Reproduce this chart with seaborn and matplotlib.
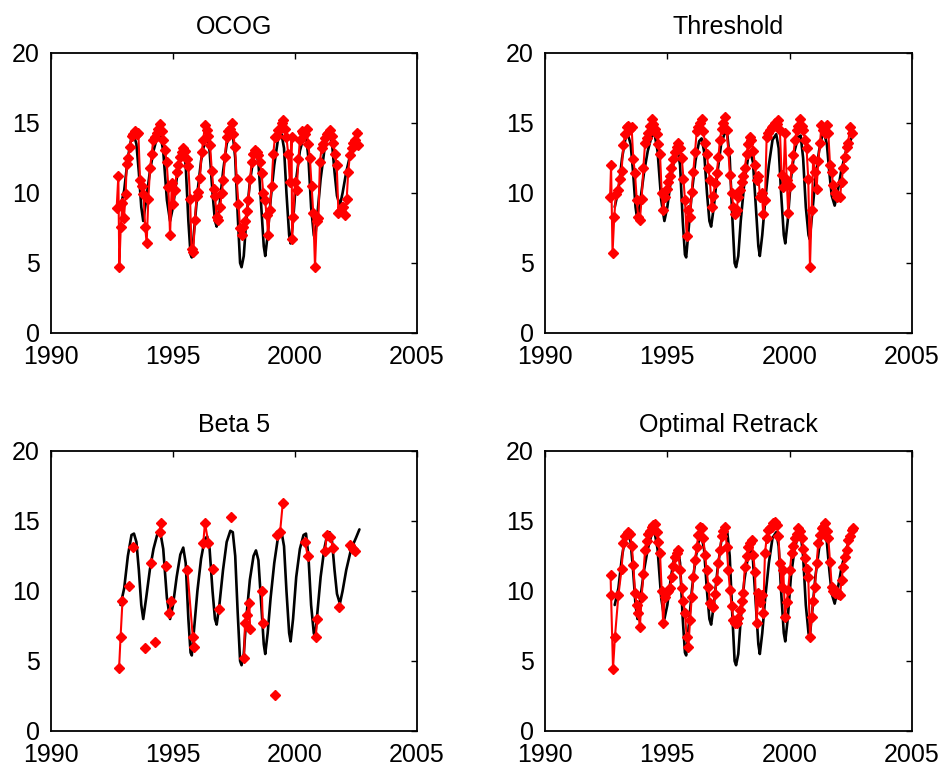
import numpy as np
import pandas as pd
import matplotlib
matplotlib.use("Agg")
import matplotlib.pyplot as plt
import seaborn as sns

sns.set_style("white")
plt.rcParams["font.family"] = ["Liberation Sans", "DejaVu Sans"]

# ---------------- reference (black) series ----------------
ref_t = [1992.85, 1993.0, 1993.15, 1993.3, 1993.4, 1993.5, 1993.6, 1993.7, 1993.78, 1993.9,
         1994.05, 1994.2, 1994.35, 1994.47, 1994.6, 1994.75, 1994.88, 1995.0, 1995.15, 1995.3,
         1995.42, 1995.52, 1995.63, 1995.72, 1995.77, 1995.85, 1996.0, 1996.15, 1996.3, 1996.4,
         1996.5, 1996.62, 1996.72, 1996.79, 1996.9, 1997.05, 1997.2, 1997.35, 1997.45, 1997.55,
         1997.65, 1997.75, 1997.81, 1997.9, 1998.0, 1998.15, 1998.3, 1998.4, 1998.5, 1998.6,
         1998.72, 1998.78, 1998.88, 1999.0, 1999.15, 1999.3, 1999.45, 1999.55, 1999.65, 1999.76,
         1999.82, 1999.92, 2000.05, 2000.2, 2000.35, 2000.45, 2000.55, 2000.66, 2000.77, 2000.82,
         2000.92, 2001.05, 2001.2, 2001.33, 2001.42, 2001.52, 2001.62, 2001.72, 2001.84, 2001.95,
         2002.1, 2002.3, 2002.5, 2002.64]
ref_v = [9.0, 10.2, 12.5, 14.0, 14.1, 13.5, 11.5, 9.0, 8.0, 9.5,
         11.5, 13.0, 14.0, 14.3, 13.0, 9.5, 8.0, 9.0, 11.0, 12.6,
         13.1, 12.0, 8.0, 5.6, 5.4, 7.0, 10.0, 12.3, 13.7, 13.9,
         13.0, 10.0, 8.0, 7.6, 9.0, 11.5, 13.5, 14.3, 14.2, 12.5,
         8.5, 5.0, 4.7, 5.5, 8.0, 10.8, 12.5, 12.9, 12.2, 9.5,
         6.2, 5.5, 7.0, 9.5, 12.0, 13.8, 14.2, 13.2, 10.0, 7.0,
         6.4, 8.0, 11.0, 13.0, 14.0, 14.1, 12.5, 9.0, 7.0, 6.7,
         8.5, 11.0, 13.0, 14.1, 14.2, 13.5, 11.5, 9.8, 9.1, 10.0,
         11.5, 13.0, 13.8, 14.4]

# ---------------- OCOG ----------------
ocog_t = [1992.69, 1992.76, 1992.80, 1992.86, 1992.93, 1992.99, 1993.06, 1993.10, 1993.17, 1993.24,
          1993.31, 1993.38, 1993.44, 1993.51, 1993.58, 1993.65, 1993.72, 1993.79, 1993.86, 1993.92,
          1993.99, 1994.06, 1994.13, 1994.19, 1994.26, 1994.33, 1994.40, 1994.47, 1994.53, 1994.60,
          1994.67, 1994.74, 1994.81, 1994.88, 1994.95, 1995.01, 1995.08, 1995.15, 1995.22, 1995.29,
          1995.36, 1995.43, 1995.49, 1995.56, 1995.63, 1995.70, 1995.76, 1995.83, 1995.90, 1995.97,
          1996.04, 1996.10, 1996.18, 1996.24, 1996.31, 1996.38, 1996.45, 1996.52, 1996.59, 1996.66,
          1996.72, 1996.79, 1996.86, 1996.93, 1997.00, 1997.06, 1997.13, 1997.20, 1997.27, 1997.34,
          1997.40, 1997.47, 1997.54, 1997.61, 1997.68, 1997.75, 1997.82, 1997.88, 1997.95, 1998.02,
          1998.09, 1998.16, 1998.22, 1998.29, 1998.36, 1998.43, 1998.50, 1998.56, 1998.63, 1998.70,
          1998.77, 1998.84, 1998.90, 1998.97, 1999.04, 1999.11, 1999.18, 1999.25, 1999.32, 1999.38,
          1999.45, 1999.52, 1999.58, 1999.65, 1999.72, 1999.79, 1999.86, 1999.88, 1999.93, 2000.00,
          2000.07, 2000.14, 2000.20, 2000.27, 2000.34, 2000.41, 2000.48, 2000.54, 2000.61, 2000.68,
          2000.75, 2000.82, 2000.89, 2000.96, 2001.02, 2001.09, 2001.16, 2001.23, 2001.30, 2001.37,
          2001.43, 2001.50, 2001.57, 2001.64, 2001.71, 2001.78, 2001.85, 2001.91, 2001.98, 2002.05,
          2002.12, 2002.18, 2002.25, 2002.32, 2002.39, 2002.46, 2002.53, 2002.60]
ocog_v = [8.9, 11.2, 4.7, 7.6, 9.3, 8.2, 9.9, 12.1, 12.5, 13.3,
          14.1, 14.2, 14.4, 14.2, 14.3, 10.9, 10.5, 9.9, 7.6, 6.4,
          9.6, 11.8, 12.8, 13.8, 14.0, 14.3, 14.6, 14.9, 14.4, 13.8,
          13.1, 12.2, 10.4, 7.0, 10.7, 9.2, 10.2, 11.5, 12.0, 12.6,
          12.95, 13.2, 13.0, 12.4, 11.9, 9.6, 6.0, 5.8, 8.1, 9.8,
          10.1, 11.05, 12.95, 13.8, 14.86, 14.5, 14.1, 13.4, 11.6, 10.3,
          9.8, 8.3, 8.1, 9.0, 10.0, 10.9, 12.6, 14.0, 14.4, 14.6,
          14.98, 14.2, 13.3, 11.0, 9.2, 7.5, 7.0, 7.6, 8.0, 8.7,
          9.5, 11.0, 12.2, 12.8, 13.1, 12.9, 12.7, 12.2, 11.4, 10.0,
          9.5, 8.4, 7.0, 8.8, 10.5, 12.8, 14.0, 14.1, 14.5, 14.6,
          15.0, 15.2, 14.6, 14.0, 12.8, 10.8, 14.0, 6.7, 8.3, 10.8,
          10.2, 12.4, 13.8, 14.4, 14.3, 14.2, 14.6, 13.5, 12.5, 10.5,
          8.55, 4.7, 8.0, 8.2, 12.2, 13.2, 13.5, 13.9, 14.2, 14.3,
          14.5, 14.1, 13.6, 12.8, 12.0, 8.55, 8.7, 9.0, 9.0, 8.43,
          9.6, 11.5, 12.7, 13.2, 13.55, 13.8, 14.26, 13.4]

# ---------------- Threshold ----------------
thr_t = [1992.66, 1992.70, 1992.76, 1992.83, 1992.90, 1992.97, 1993.05, 1993.13, 1993.20, 1993.27,
         1993.34, 1993.41, 1993.48, 1993.54, 1993.61, 1993.68, 1993.75, 1993.81, 1993.88, 1993.95,
         1994.02, 1994.09, 1994.15, 1994.22, 1994.29, 1994.36, 1994.43, 1994.50, 1994.57, 1994.63,
         1994.70, 1994.77, 1994.83, 1994.90, 1994.97, 1995.04, 1995.10, 1995.17, 1995.24, 1995.31,
         1995.38, 1995.45, 1995.52, 1995.59, 1995.66, 1995.72, 1995.79, 1995.86, 1995.93, 1996.00,
         1996.06, 1996.13, 1996.20, 1996.27, 1996.34, 1996.40, 1996.47, 1996.54, 1996.61, 1996.68,
         1996.74, 1996.81, 1996.88, 1996.95, 1997.02, 1997.09, 1997.15, 1997.22, 1997.29, 1997.36,
         1997.43, 1997.49, 1997.56, 1997.63, 1997.70, 1997.76, 1997.83, 1997.90, 1997.97, 1998.04,
         1998.10, 1998.17, 1998.24, 1998.31, 1998.38, 1998.44, 1998.51, 1998.58, 1998.65, 1998.72,
         1998.79, 1998.86, 1998.92, 1998.99, 1999.06, 1999.13, 1999.20, 1999.27, 1999.33, 1999.40,
         1999.47, 1999.53, 1999.60, 1999.67, 1999.74, 1999.81, 1999.88, 1999.94, 2000.01, 2000.08,
         2000.15, 2000.22, 2000.29, 2000.35, 2000.42, 2000.49, 2000.56, 2000.63, 2000.69, 2000.76,
         2000.83, 2000.90, 2000.96, 2001.03, 2001.10, 2001.17, 2001.24, 2001.30, 2001.37, 2001.44,
         2001.51, 2001.58, 2001.65, 2001.71, 2001.78, 2001.85, 2001.92, 2001.99, 2002.06, 2002.12,
         2002.19, 2002.26, 2002.33, 2002.39, 2002.46, 2002.53]
thr_v = [9.7, 12.0, 5.7, 8.3, 9.9, 10.2, 11.0, 11.6, 13.4, 14.2,
         14.7, 14.8, 14.6, 14.7, 12.4, 11.4, 9.5, 8.3, 8.1, 9.6,
         11.8, 13.55, 13.9, 14.3, 14.8, 15.3, 14.9, 14.6, 14.2, 13.5,
         12.8, 10.0, 8.8, 9.7, 10.3, 10.8, 11.2, 11.8, 12.4, 12.9,
         13.3, 13.55, 13.2, 12.5, 11.0, 9.5, 6.9, 8.8, 8.3, 10.1,
         11.5, 12.9, 14.4, 14.7, 15.0, 15.3, 14.4, 13.6, 12.8, 11.8,
         10.9, 9.0, 9.8, 10.7, 11.4, 12.6, 13.8, 14.6, 15.0, 15.45,
         14.5, 13.0, 11.3, 10.0, 9.0, 8.5, 8.8, 9.7, 10.2, 10.8,
         11.2, 11.8, 12.8, 13.5, 14.0, 13.8, 13.0, 12.0, 10.9, 11.2,
         9.7, 10.0, 8.5, 9.5, 14.0, 14.3, 14.5, 14.7, 14.8, 15.0,
         14.9, 15.2, 14.5, 11.3, 10.45, 14.26, 10.9, 8.55, 10.5, 11.8,
         12.7, 13.8, 14.5, 14.8, 15.3, 14.8, 14.5, 13.8, 13.2, 11.0,
         4.74, 8.8, 12.4, 11.5, 10.3, 12.3, 13.55, 14.86, 14.5, 14.3,
         14.86, 14.26, 12.0, 11.5, 10.6, 10.0, 9.7, 9.8, 9.7, 10.8,
         11.8, 12.6, 13.3, 13.55, 14.7, 14.3]

# ---------------- Beta 5 (NaN = missing, breaks the line) ----------------
b5_t = [1992.79, 1992.85, 1992.93, 1993.0, 1993.21, 1993.3, 1993.37, 1993.5, 1993.85, 1993.95,
        1994.08, 1994.15, 1994.26, 1994.35, 1994.47, 1994.49, 1994.6, 1994.70, 1994.78, 1994.85,
        1994.92, 1995.2, 1995.59, 1995.81, 1995.86, 1996.0, 1996.24, 1996.31, 1996.45, 1996.55,
        1996.65, 1996.75, 1996.89, 1997.1, 1997.38, 1997.6, 1997.91, 1997.95, 1998.02, 1998.13,
        1998.16, 1998.4, 1998.64, 1998.68, 1998.9, 1999.18, 1999.22, 1999.28, 1999.39, 1999.50,
        1999.9, 2000.41, 2000.52, 2000.7, 2000.85, 2000.91, 2001.1, 2001.23, 2001.30, 2001.43,
        2001.57, 2001.7, 2001.80, 2002.0, 2002.25, 2002.38, 2002.46]
b5_v = [4.48, 6.69, 9.31, np.nan, 10.36, np.nan, 13.16, np.nan, 5.95, np.nan,
        12.02, np.nan, 6.33, np.nan, 14.24, 14.88, np.nan, 11.81, np.nan, 8.4,
        9.31, np.nan, 11.48, 6.74, 5.98, np.nan, 13.41, 14.88, 13.41, np.nan,
        11.55, np.nan, 8.69, np.nan, 15.26, np.nan, 5.19, 7.69, 8.29, 9.12,
        7.26, np.nan, 10.0, 7.69, np.nan, 2.57, np.nan, 14.0, 14.24, 16.3,
        np.nan, 13.52, 12.5, np.nan, 6.69, 7.98, np.nan, 12.86, 14.0, 13.88,
        13.09, np.nan, 8.83, np.nan, 13.29, 13.0, 12.86]

# ---------------- Optimal Retrack ----------------
opt_t = [1992.68, 1992.70, 1992.78, 1992.86, 1993.00, 1993.13, 1993.20, 1993.27, 1993.34, 1993.41,
         1993.48, 1993.55, 1993.61, 1993.68, 1993.75, 1993.81, 1993.88, 1993.95, 1994.02, 1994.09,
         1994.15, 1994.22, 1994.29, 1994.36, 1994.43, 1994.50, 1994.57, 1994.63, 1994.70, 1994.77,
         1994.83, 1994.90, 1994.97, 1995.04, 1995.11, 1995.18, 1995.25, 1995.32, 1995.38, 1995.45,
         1995.52, 1995.59, 1995.66, 1995.72, 1995.79, 1995.86, 1995.93, 1996.00, 1996.06, 1996.13,
         1996.20, 1996.27, 1996.33, 1996.40, 1996.47, 1996.54, 1996.61, 1996.68, 1996.74, 1996.81,
         1996.88, 1996.95, 1997.02, 1997.09, 1997.15, 1997.22, 1997.29, 1997.36, 1997.43, 1997.49,
         1997.56, 1997.63, 1997.70, 1997.76, 1997.83, 1997.90, 1997.97, 1998.04, 1998.10, 1998.17,
         1998.24, 1998.31, 1998.38, 1998.45, 1998.51, 1998.58, 1998.65, 1998.72, 1998.79, 1998.86,
         1998.92, 1998.99, 1999.06, 1999.13, 1999.20, 1999.27, 1999.33, 1999.40, 1999.47, 1999.54,
         1999.60, 1999.67, 1999.74, 1999.81, 1999.88, 1999.94, 2000.01, 2000.08, 2000.15, 2000.22,
         2000.28, 2000.35, 2000.42, 2000.49, 2000.56, 2000.63, 2000.69, 2000.76, 2000.83, 2000.90,
         2000.96, 2001.03, 2001.10, 2001.17, 2001.24, 2001.31, 2001.37, 2001.44, 2001.51, 2001.58,
         2001.65, 2001.72, 2001.78, 2001.85, 2001.92, 2001.99, 2002.06, 2002.12, 2002.19, 2002.26,
         2002.33, 2002.39, 2002.46, 2002.53, 2002.58]
opt_v = [11.14, 9.71, 4.45, 6.74, 9.71, 11.55, 13.4, 13.9, 14.1, 14.2,
         14.1, 13.2, 11.86, 9.83, 9.0, 8.4, 7.45, 9.6, 11.2, 12.93,
         13.6, 14.1, 14.3, 14.6, 14.7, 14.8, 14.2, 13.52, 12.7, 10.0,
         7.69, 9.6, 9.9, 10.0, 10.19, 11.0, 11.8, 12.4, 12.7, 12.93,
         11.5, 10.2, 9.3, 8.4, 6.74, 6.02, 7.93, 9.6, 11.02, 12.2,
         13.16, 14.0, 14.6, 14.5, 13.76, 12.6, 11.5, 10.3, 9.12, 8.9,
         8.88, 9.8, 10.79, 12.0, 12.93, 13.9, 14.3, 14.6, 13.16, 11.5,
         10.07, 8.9, 7.93, 7.7, 7.69, 8.1, 8.64, 9.3, 9.83, 11.74,
         12.5, 13.16, 13.4, 13.64, 12.6, 11.38, 7.69, 9.83, 9.2, 9.71,
         8.4, 12.69, 13.8, 14.36, 14.5, 14.6, 14.83, 14.9, 14.71, 13.9,
         12.0, 10.31, 11.5, 8.17, 9.2, 10.07, 11.5, 12.69, 13.2, 13.76,
         14.1, 14.48, 14.3, 13.76, 13.0, 12.33, 11.6, 11.02, 6.74, 8.17,
         9.3, 10.31, 11.98, 13.4, 14.0, 14.48, 14.6, 14.83, 14.3, 13.76,
         12.1, 10.31, 10.0, 9.83, 9.9, 9.8, 9.71, 10.8, 11.74, 12.4,
         12.93, 13.64, 13.9, 14.36, 14.5]

titles = ["OCOG", "Threshold", "Beta 5", "Optimal Retrack"]
series = [(ocog_t, ocog_v), (thr_t, thr_v), (b5_t, b5_v), (opt_t, opt_v)]
x_ticks = [1990, 1995, 2000, 2005]
y_ticks = [0, 5, 10, 15, 20]

ref_df = pd.DataFrame({"t": ref_t, "v": ref_v})

fig = plt.figure(figsize=(9.4, 7.67), dpi=100)
W, H = 940.0, 767.0
boxes = [(51, 53, 417, 333), (545, 53, 912, 333), (51, 451, 417, 731), (545, 451, 912, 731)]

for (x0, y0, x1, y1), title, (tt, vv) in zip(boxes, titles, series):
    ax = fig.add_axes([x0 / W, 1 - y1 / H, (x1 - x0) / W, (y1 - y0) / H])
    sns.lineplot(data=ref_df, x="t", y="v", ax=ax, color="black", lw=1.9,
                 estimator=None, sort=False)
    v = np.array(vv, dtype=float)
    seg = np.cumsum(np.isnan(v))
    df = pd.DataFrame({"t": tt, "v": v, "seg": seg}).dropna()
    sns.lineplot(data=df, x="t", y="v", units="seg", estimator=None, ax=ax,
                 color="#ff0000", lw=1.5, marker="D", markersize=5.5,
                 markeredgecolor="#ff0000", markeredgewidth=1.0, sort=False)
    ax.set_xlim(1990, 2005)
    ax.set_ylim(0, 20)
    ax.set_xticks(x_ticks)
    ax.set_yticks(y_ticks)
    ax.set_xticklabels([str(x) for x in x_ticks])
    ax.set_yticklabels([str(y) for y in y_ticks])
    ax.set_xlabel("")
    ax.set_ylabel("")
    ax.tick_params(axis="both", direction="in", length=4, width=1, top=True, right=True,
                   labelsize=18, colors="black")
    ax.tick_params(axis="x", pad=9)
    ax.tick_params(axis="y", pad=8)
    for s in ax.spines.values():
        s.set_visible(True)
        s.set_color("black")
        s.set_linewidth(1.3)
    ax.set_title(title, fontsize=18, pad=14, color="black")

fig.savefig("out.png", dpi=100)
